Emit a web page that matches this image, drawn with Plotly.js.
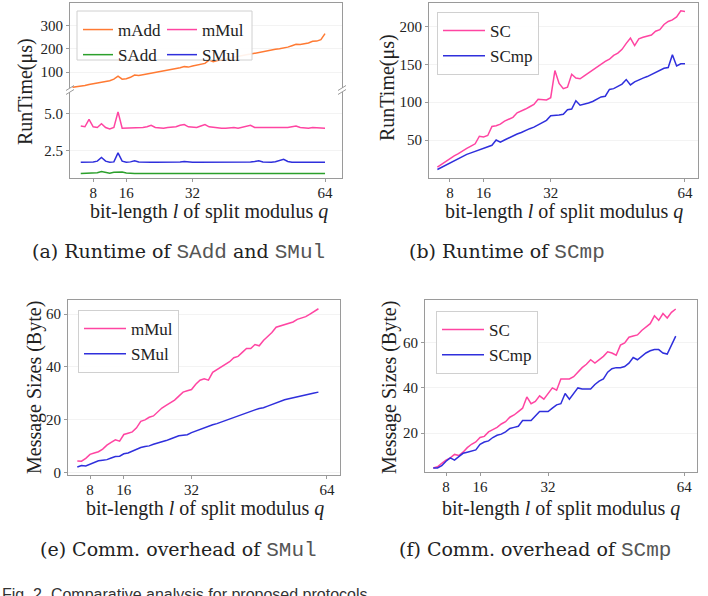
<!DOCTYPE html>
<html><head><meta charset="utf-8">
<script src="https://cdn.plot.ly/plotly-3.0.1.min.js"></script>
<style>html,body{margin:0;padding:0;background:#fff}#chart{width:708px;height:596px}</style>
</head><body><div id="chart"></div>
<script>
// ---------- data ----------
const q = [5,6,7,8,9,10,11,12,13,14,15,16,17,18,19,20,21,22,23,24,25,26,27,28,29,30,31,32,33,34,35,36,37,38,39,40,41,42,43,44,45,46,47,48,49,50,51,52,53,54,55,56,57,58,59,60,61,62,63,64];
const qAdd = [3,4].concat(q);
const xTicks = [8,16,32,64];

// (a) runtime of SAdd and SMul
const mAdd = [35,37,40,43,47,51,55,57,60,63,70,83,70,72,78,88,86,89,92,95,98,101,104,108,112,114,119,124,122,127,131,134,138,152,145,150,154,158,161,165,168,172,175,178,182,186,189,193,196,199,201,204,208,214,220,219,221,226,233,234,240,266];
const mMulA = [4.15,4.1,4.6,4.1,4.05,4.3,4.05,3.95,4.05,5.1, 4.0,4.0,4.0,4.05,4.0,4.05,4.1,4.2,4.05,4.0, 4.0,4.05,4.05,4.1,4.2,4.25,4.1,4.05,4.05,4.15, 4.25,4.1,4.05,4.05,4.0,4.0,4.05,4.05,4.0,4.05, 4.1,4.2,4.05,4.05,4.0,4.05,4.05,4.05,4.0,4.05, 4.05,4.1,4.15,4.05,4.0,4.0,4.05,4.05,4.05,4.0];
const sMulA = [1.72,1.72,1.74,1.75,1.8,2.05,1.8,1.72,1.75,2.35, 1.8,1.72,1.75,1.82,1.74,1.72,1.72,1.73,1.72,1.72, 1.72,1.73,1.72,1.72,1.74,1.78,1.74,1.72,1.72,1.72, 1.73,1.72,1.72,1.73,1.72,1.72,1.72,1.73,1.72,1.72, 1.73,1.75,1.78,1.82,1.75,1.72,1.72,1.76,1.85,1.92, 1.78,1.72,1.72,1.72,1.73,1.72,1.72,1.72,1.72,1.72];
const sAddA = [0.97,0.97,0.97,0.98,1.02,1.1,1.05,0.99,1.05,1.08, 1.07,1.0,0.97,0.97,0.97,0.97,0.97,0.97,0.97,0.97, 0.97,0.97,0.97,0.97,0.97,0.97,0.98,0.97,0.97,0.97, 0.97,0.97,0.97,0.97,0.98,1.02,0.98,0.97,0.97,0.97, 0.97,0.97,0.97,0.97,0.97,0.97,0.97,0.97,0.97,0.97, 0.97,0.97,0.97,0.97,0.97,0.97,0.97,0.97,0.97,0.97];

// (b) runtime of SCmp
const scB = [14,18,22,25,29,32,36,39,42,45, 55,54,56,68,69,71,75,77,80,86, 88,91,94,97,104,103,103,106,142,125, 118,120,137,132,131,135,139,143,146,150, 154,157,162,165,170,178,185,175,184,186, 187,189,194,196,203,207,209,213,221,220];
const scmpB = [11,14,17,20,23,26,28,31,33,35, 37,39,41,43,50,47,50,53,55,58, 60,63,65,67,70,74,76,82,83,83, 84,90,91,102,96,97,99,101,104,107, 108,117,118,121,124,130,123,127,130,132, 134,137,140,143,145,146,163,148,151,151];

// (e) comm. overhead of SMul
const mMulE = [4.5,4.4,5.5,7,7.5,8,9,10.5,11.5,12.5, 12,14.5,15,15.5,17,19.5,20,21,21.5,23, 24.5,25.5,26.5,27.5,29,30.5,31,31.5,33.5,35, 35.5,35,38,39,40,41,42,43.5,44,45.5, 47,47,48.5,48,50,51.5,53,55,55.5,56, 56.5,57,58,58.5,59,60,61,62];
const sMulE = [2.2,2.8,2.6,3.3,4,4.6,4.8,5,5.6,6.2, 6.3,7.2,7.5,8.2,8.8,9.6,10,10.2,10.8,11.2, 11.6,12.2,12.8,13.4,14,14.2,14.4,15.2,15.8,16.5, 17.2,17.8,18.2,18.6,19.2,19.7,20.2,20.8,21.4,22, 22.6,23.2,23.8,24.3,24.6,25.2,25.8,26.5,27.2,27.6, 28,28.4,28.8,29.2,29.6,29.9,30.2,30.5];

// (f) comm. overhead of SCmp
const scF = [4.5,5,6.5,8,9,10.5,10,11.5,13.5,15, 16,18,18.5,20.5,21.5,22.5,24,25,27,28, 29.5,31,36,33,34,36.5,35,37.5,40,39, 44,44,44,45,47,49,50.5,52.5,51,52.5, 54,56,55.5,54.5,59,60,62.5,63,63.5,65.5, 67,68.5,72,70,73,71,73.5,75];
const scmpF = [4.5,4.5,5.5,7.5,9,8,9.5,11,11.5,12, 12.5,15,16,16.5,18,19,19.5,20.5,22,22.5, 23,25.5,25.5,25.5,27.5,29.5,29.5,29.5,31,32.5, 33,37.5,35,37.5,40,39.5,39.5,39.5,41.5,43, 44,47,48.5,49,49,49.5,51,53.5,52.5,54, 55.5,56.5,57,57,55.5,55,59,63];

// ---------- style ----------
const W = 708, H = 596;
const px = p => p / W, py = p => 1 - p / H;
const SERIF = 'Liberation Serif, Times New Roman, serif';
const CAP = 'DejaVu Serif, serif';
const MONO = 'Liberation Mono, monospace';
const ORANGE = '#ff7a33', PINK = '#ff45a2', BLUE = '#2f2fdc', GREEN = '#2ca02c';
const LW = 1.5;

const axBase = {
  showline: true, linecolor: '#9a9a9a', linewidth: 1,
  ticks: 'outside', ticklen: 3, tickcolor: '#9a9a9a', tickwidth: 1,
  tickfont: {family: SERIF, size: 15, color: '#222'},
  showgrid: false, zeroline: false, fixedrange: true
};
const xAx = (dom, rng, anchor, mirror) => Object.assign({}, axBase, {
  domain: dom, range: rng, anchor: anchor, tickvals: xTicks, mirror: mirror, ticklabelstandoff: -2
});
const yAx = (dom, rng, anchor, tv, tt) => Object.assign({}, axBase, {
  domain: dom, range: rng, anchor: anchor, tickvals: tv, ticktext: tt, mirror: true,
  showgrid: true, gridcolor: '#f3f3f3'
});

const tr = (x, y, xa, ya, name, color, lg) => ({
  type: 'scatter', mode: 'lines', x: x, y: y, xaxis: xa, yaxis: ya, name: name,
  line: {color: color, width: LW}, legend: lg, hoverinfo: 'skip'
});

const data = [
  tr(qAdd, mAdd, 'x2', 'y', 'mAdd', ORANGE, 'legend'),
  tr(q, mMulA, 'x', 'y2', 'mMul', PINK, 'legend2'),
  tr(q, sAddA, 'x', 'y2', 'SAdd', GREEN, 'legend'),
  tr(q, sMulA, 'x', 'y2', 'SMul', BLUE, 'legend2'),
  tr(q, scB, 'x3', 'y3', 'SC', PINK, 'legend3'),
  tr(q, scmpB, 'x3', 'y3', 'SCmp', BLUE, 'legend3'),
  tr(q.slice(0, mMulE.length), mMulE, 'x4', 'y4', 'mMul', PINK, 'legend4'),
  tr(q.slice(0, sMulE.length), sMulE, 'x4', 'y4', 'SMul', BLUE, 'legend4'),
  tr(q.slice(0, scF.length), scF, 'x5', 'y5', 'SC', PINK, 'legend5'),
  tr(q.slice(0, scmpF.length), scmpF, 'x5', 'y5', 'SCmp', BLUE, 'legend5')
];

const legFont = {family: SERIF, size: 17, color: '#222'};
const legCol = (x, y) => ({x: x, y: y, xanchor: 'left', yanchor: 'top', orientation: 'v',
  bgcolor: 'rgba(0,0,0,0)', borderwidth: 0, font: legFont, itemwidth: 30});
const legV = (x, y) => ({x: x, y: y, xanchor: 'left', yanchor: 'top', orientation: 'v',
  bgcolor: 'rgba(255,255,255,0.9)', bordercolor: '#d0d0d0', borderwidth: 1, font: legFont, itemwidth: 42});

const aDom = [px(70), px(342)];
const layout = {
  width: W, height: H, margin: {l: 0, r: 0, t: 0, b: 0},
  paper_bgcolor: '#fff', plot_bgcolor: '#fff', showlegend: true,
  xaxis: xAx(aDom, [2.4, 68.1], 'y2', false),
  xaxis2: Object.assign(xAx(aDom, [2.4, 68.1], 'y', false), {side: 'top', ticks: '', showticklabels: false}),
  yaxis: yAx([py(88), py(3)], [32, 398], 'x2', [100, 200, 300]),
  yaxis2: yAx([py(178), py(92)], [0.67, 6.43], 'x', [2.5, 5.0], ['2.5', '5.0']),
  xaxis3: xAx([px(429), px(698)], [3, 67.1], 'y3', true),
  yaxis3: yAx([py(178), py(3)], [-0.3, 231.4], 'x3', [50, 100, 150, 200]),
  xaxis4: xAx([px(68), px(340)], [2.8, 67.1], 'y4', true),
  yaxis4: yAx([py(475), py(300)], [-0.8, 65.3], 'x4', [0, 20, 40, 60]),
  xaxis5: xAx([px(425), px(697)], [3.06, 67], 'y5', true),
  yaxis5: yAx([py(472), py(300)], [2.7, 79], 'x5', [20, 40, 60]),
  legend: legCol(px(78), py(12)),
  legend2: legCol(px(162), py(12)),
  legend3: legV(px(437), py(12)),
  legend4: legV(px(78), py(310)),
  legend5: legV(px(436), py(311)),
  shapes: [
    {type: 'rect', xref: 'paper', yref: 'paper', x0: px(77), x1: px(252), y0: py(60), y1: py(11),
     fillcolor: 'rgba(255,255,255,0.9)', line: {color: '#d0d0d0', width: 1}, layer: 'above'}
  ].concat([70, 342].flatMap(xp => [88, 92].map(yp => ({
    type: 'line', xref: 'paper', yref: 'paper', x0: px(xp - 4), y0: py(yp + 2.5), x1: px(xp + 4), y1: py(yp - 2.5),
    line: {color: '#9a9a9a', width: 1}, layer: 'above'})))),
  annotations: []
};

const ann = (text, x, y, opts) => Object.assign({text: text, x: x, y: y, xref: 'paper', yref: 'paper',
  showarrow: false, xanchor: 'center', yanchor: 'middle', font: {family: SERIF, size: 20, color: '#222'}}, opts || {});
const xTitle = 'bit-length <i>l</i> of split modulus <i>q</i>';
const mono = s => '<span style="font-family:' + MONO + ';font-size:21px;fill:#555">' + s + '</span>';
const capFont = {family: CAP, size: 19, color: '#222'};
layout.annotations.push(
  ann(xTitle, px(209), py(211)),
  ann(xTitle, px(564), py(211)),
  ann(xTitle, px(205), py(508)),
  ann(xTitle, px(561), py(508)),
  ann('RunTime(μs)', px(25), py(92), {textangle: -90}),
  ann('RunTime(μs)', px(388), py(87), {textangle: -90}),
  ann('Message Sizes (Byte)', px(35), py(388), {textangle: -90}),
  ann('Message Sizes (Byte)', px(390), py(388), {textangle: -90}),
  ann('(a) Runtime of ' + mono('SAdd') + ' and ' + mono('SMul'), px(178), py(252), {font: capFont}),
  ann('(b) Runtime of ' + mono('SCmp'), px(507), py(252), {font: capFont}),
  ann('(e) Comm. overhead of ' + mono('SMul'), px(178), py(550), {font: capFont}),
  ann('(f) Comm. overhead of ' + mono('SCmp'), px(535), py(550), {font: capFont}),
  ann('Fig. 2. Comparative analysis for proposed protocols', 0, py(584),
      {xanchor: 'left', yanchor: 'top', font: {family: 'Liberation Sans, Arial, sans-serif', size: 16, color: '#333'}})
);

Plotly.newPlot('chart', data, layout, {staticPlot: true, displayModeBar: false});
</script></body></html>
